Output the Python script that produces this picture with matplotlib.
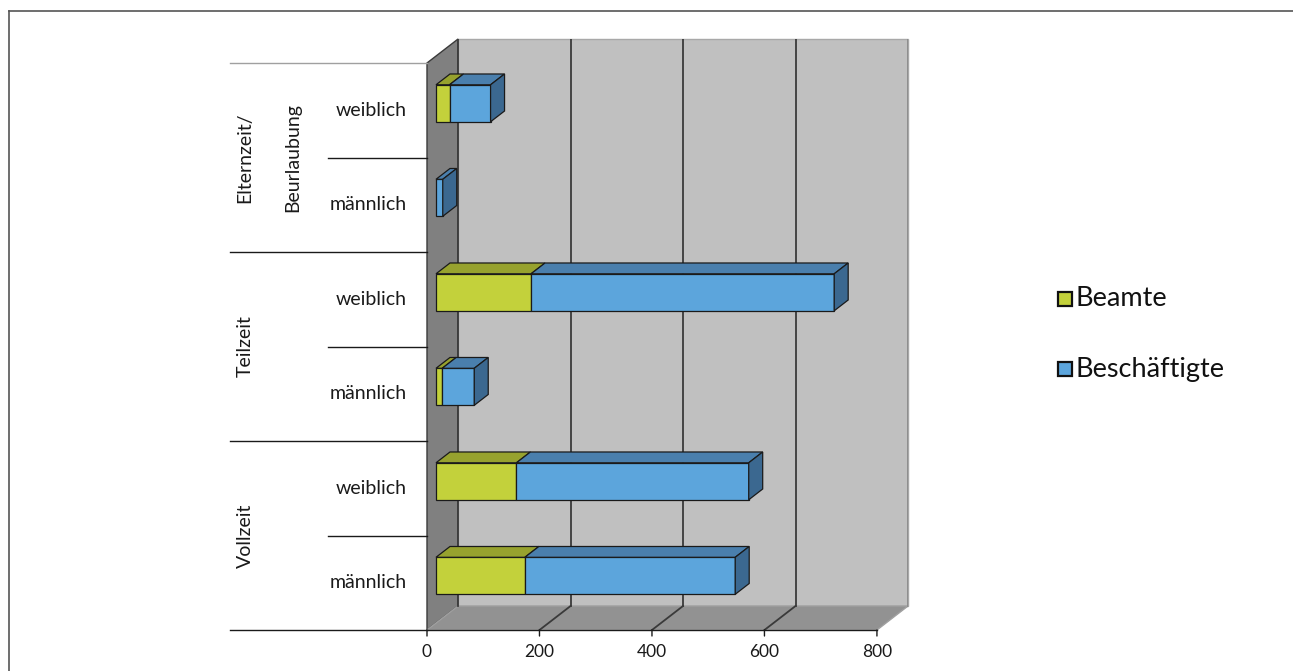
import matplotlib
matplotlib.use("Agg")
import matplotlib.pyplot as plt
from matplotlib.patches import Polygon, Rectangle
from matplotlib.lines import Line2D

plt.rcParams["font.family"] = ["Lato", "DejaVu Sans"]

# Personalstand nach Beschäftigungsumfang und Geschlecht
gruppen = ["Vollzeit", "Teilzeit", "Elternzeit/\nBeurlaubung"]
geschlecht = ["männlich", "weiblich"] * 3
beamte = [158, 143, 11, 169, 0, 24]
beschaeftigte = [374, 413, 57, 539, 12, 73]
x_ticks = [0, 200, 400, 600, 800]

# Farben (Vorderseite, Oberseite, Seite)
C_BEAMTE = ("#c3d13b", "#97a22e", "#7f8a25")
C_BESCH = ("#5ca5dc", "#4a7fad", "#3b6890")

W, H, DPI = 1293, 671, 100
fig = plt.figure(figsize=(W / DPI, H / DPI), dpi=DPI)

# Plotfläche (Pixel des Bildes): vordere Ebene 427..876, Tiefe 31 px / 24 px
X0, X1, XB = 427, 876, 908
Y_BOT, Y_TOP = 630, 39
XMAX = x_ticks[-1]
px_per_unit = (X1 - X0) / XMAX
DX = 31 / px_per_unit          # Tiefenversatz in Werteinheiten
n = len(beamte)
py_per_cat = (Y_BOT - 63) / n
DY = 24 / py_per_cat           # Tiefenversatz in Kategorien

ax = fig.add_axes([X0 / W, (H - Y_BOT) / H, (XB - X0) / W, (Y_BOT - Y_TOP) / H])
ax.set_xlim(0, XMAX + DX)
ax.set_ylim(0, n + DY)
ax.axis("off")


def proj(x, y, z):
    return (x + z * DX, y + z * DY)


def poly(pts, fc, ec="#1a1a1a", lw=0.9, z=2):
    ax.add_patch(Polygon([proj(*p) for p in pts], closed=True, facecolor=fc,
                         edgecolor=ec, linewidth=lw, zorder=z, clip_on=False))


# Wände und Boden
poly([(0, 0, 0), (0, n, 0), (0, n, 1), (0, 0, 1)], "#808080", ec="#3a3a3a", lw=1.0, z=1)
poly([(0, 0, 1), (XMAX, 0, 1), (XMAX, n, 1), (0, n, 1)], "#c0c0c0", ec="#a8a8a8", lw=1.0, z=1)
poly([(0, 0, 0), (XMAX, 0, 0), (XMAX, 0, 1), (0, 0, 1)], "#929292", ec="#a0a0a0", lw=1.0, z=1)
ax.plot(*zip(proj(0, 0, 1), proj(0, n, 1)), color="#3a3a3a", lw=1.3, zorder=1.5)
ax.plot(*zip(proj(XMAX, 0, 1), proj(XMAX, n, 1)), color="#8a8a8a", lw=1.3, zorder=1.5)

# Gitterlinien auf Rückwand und Boden
for t in x_ticks[1:-1]:
    ax.plot(*zip(proj(t, 0, 1), proj(t, n, 1)), color="#3a3a3a", lw=1.3, zorder=1.5)
    ax.plot(*zip(proj(t, 0, 0), proj(t, 0, 1)), color="#3a3a3a", lw=1.3, zorder=1.5)

# 3D-Balken
Z0, Z1 = 0.29, 0.74
BH = 37 / py_per_cat


def box(x0, x1, yc, colors, side):
    y0, y1 = yc - BH / 2, yc + BH / 2
    front, top, right = colors
    poly([(x0, y0, Z0), (x1, y0, Z0), (x1, y1, Z0), (x0, y1, Z0)], front, z=3)
    poly([(x0, y1, Z0), (x1, y1, Z0), (x1, y1, Z1), (x0, y1, Z1)], top, z=3)
    if side:
        poly([(x1, y0, Z0), (x1, y0, Z1), (x1, y1, Z1), (x1, y1, Z0)], right, z=3)


for i in range(n - 1, -1, -1):
    yc = i + 0.5
    b, s = beamte[i], beschaeftigte[i]
    if b > 0:
        box(0, b, yc, C_BEAMTE, side=(s == 0))
    if s > 0:
        box(b, b + s, yc, C_BESCH, side=True)

# x-Achse an der vorderen Bodenkante
ax.plot([0, XMAX], [0, 0], color="#1a1a1a", lw=1.0, zorder=4, clip_on=False)
for t in x_ticks:
    ax.annotate("", xy=(t, 0), xytext=(0, -6), textcoords="offset pixels",
                arrowprops=dict(arrowstyle="-", color="#1a1a1a", lw=1.0,
                                shrinkA=0, shrinkB=0))
    ax.annotate(str(t), xy=(t, 0), xytext=(0, -22), textcoords="offset pixels",
                ha="center", va="center", fontsize=12.5, color="#1a1a1a")

# Beschriftung der Kategorien links
for i, g in enumerate(geschlecht):
    ax.annotate(g, xy=(0, i + 0.5), xytext=(-20, 0), textcoords="offset pixels",
                ha="right", va="center", fontsize=14, color="#1a1a1a")

PX = 1 / px_per_unit
for k in range(1, n, 2):
    ax.plot([-99 * PX, 0], [k, k], color="#1a1a1a", lw=1.0, clip_on=False)
for k in range(0, n + 1, 2):
    c = "#a0a0a0" if k == n else "#1a1a1a"
    ax.plot([-197 * PX, 0], [k, k], color=c, lw=1.0, clip_on=False)

for j, g in enumerate(gruppen):
    yc = 2 * j + 1
    if "\n" in g:
        l1, l2 = g.split("\n")
        ax.annotate(l1, xy=(0, yc), xytext=(-182, 0), textcoords="offset pixels",
                    rotation=90, ha="center", va="center", fontsize=14, color="#1a1a1a")
        ax.annotate(l2, xy=(0, yc), xytext=(-134, 0), textcoords="offset pixels",
                    rotation=90, ha="center", va="center", fontsize=14, color="#1a1a1a")
    else:
        ax.annotate(g, xy=(0, yc), xytext=(-182, 0), textcoords="offset pixels",
                    rotation=90, ha="center", va="center", fontsize=14, color="#1a1a1a")

# Legende
for k, (lab, col) in enumerate([("Beamte", C_BEAMTE[0]), ("Beschäftigte", C_BESCH[0])]):
    ly = (H - 299 - 70 * k) / H
    fig.patches.append(Rectangle((1058 / W, ly - 7 / H), 14 / W, 14 / H, facecolor=col,
                                 edgecolor="#111111", linewidth=1.6,
                                 transform=fig.transFigure, figure=fig))
    fig.text(1075 / W, ly, lab, ha="left", va="center", fontsize=19.5, color="#111111")

# Rahmen des Diagrammbereichs
fig.add_artist(Line2D([9 / W, 9 / W], [0, (H - 11) / H], color="#555555", lw=1.2))
fig.add_artist(Line2D([9 / W, 1], [(H - 11) / H, (H - 11) / H], color="#555555", lw=1.2))

fig.savefig("out.png", dpi=DPI, facecolor="white")
